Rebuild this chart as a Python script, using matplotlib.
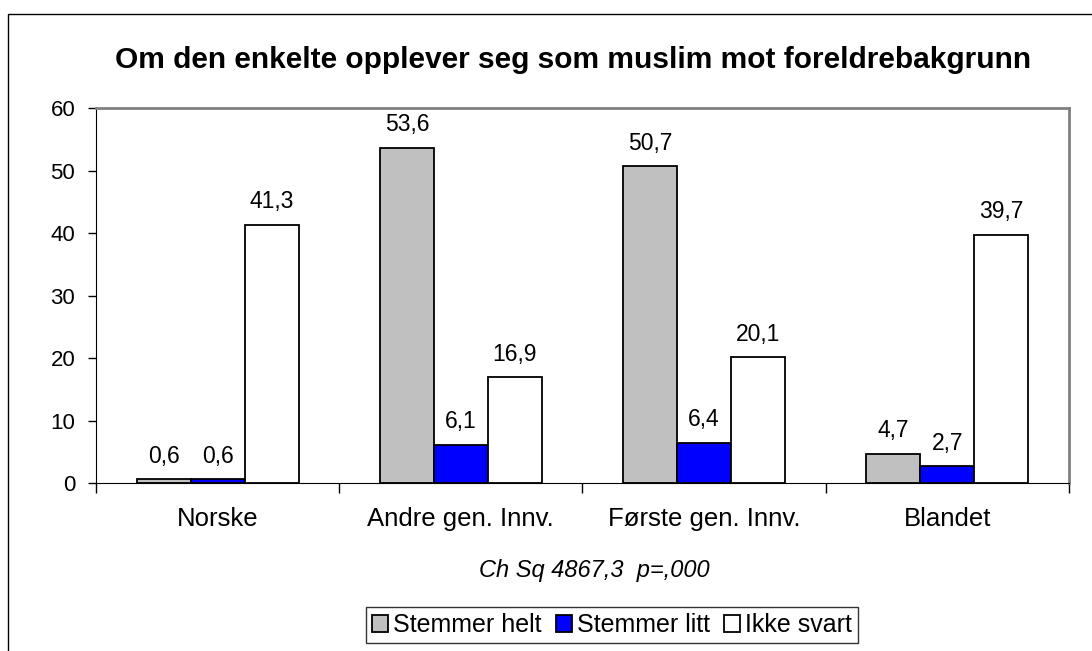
import matplotlib
matplotlib.use('Agg')
import matplotlib.pyplot as plt
import numpy as np
from matplotlib.patches import Rectangle

plt.rcParams['font.family'] = ['Liberation Sans', 'DejaVu Sans']

categories = ['Norske', 'Andre gen. Innv.', 'Første gen. Innv.', 'Blandet']
series_names = ['Stemmer helt', 'Stemmer litt', 'Ikke svart']
stemmer_helt = [0.6, 53.6, 50.7, 4.7]
stemmer_litt = [0.6, 6.1, 6.4, 2.7]
ikke_svart = [41.3, 16.9, 20.1, 39.7]
colors = ['#C0C0C0', '#0000FF', '#FFFFFF']

fig = plt.figure(figsize=(10.92, 6.51), dpi=100)
ax = fig.add_axes([0.0879, 0.258, 0.891, 0.576])

# outer chart border
fig.patches.append(Rectangle((8 / 1092, -0.1), 1.2, 1 - 14 / 651 + 0.1,
                             transform=fig.transFigure, fill=False,
                             edgecolor='black', lw=1.0))

x = np.arange(len(categories))
w = 0.222
for i, (vals, col, name) in enumerate(zip([stemmer_helt, stemmer_litt, ikke_svart],
                                          colors, series_names)):
    pos = x + (i - 1) * w
    ax.bar(pos, vals, width=w, color=col, edgecolor='black', lw=1.3, label=name)
    for p, v in zip(pos, vals):
        ax.text(p, v + 3.7, f'{v:.1f}'.replace('.', ','), ha='center', va='center',
                fontsize=16.5)

ax.set_xlim(-0.5, 3.5)
ax.set_ylim(0, 60)
ax.set_yticks(range(0, 61, 10))
ax.set_xticks(x)
ax.set_xticklabels(categories, fontsize=18.5)
ax.tick_params(axis='x', length=0, pad=17)
ax.set_xticks(np.arange(-0.5, 4, 1), minor=True)
ax.tick_params(axis='x', which='minor', length=7, width=1, color='black')
ax.tick_params(axis='y', labelsize=16, length=6, width=1, pad=9)

for s in ['top', 'right']:
    ax.spines[s].set_color('#808080')
    ax.spines[s].set_linewidth(2)
ax.spines['left'].set_color('black')
ax.spines['bottom'].set_color('black')

fig.text(573 / 1092, 1 - 60 / 651, 'Om den enkelte opplever seg som muslim mot foreldrebakgrunn',
         ha='center', va='center', fontsize=21.5, fontweight='bold')
fig.text(594 / 1092, 1 - 570 / 651, 'Ch Sq 4867,3  p=,000', ha='center', va='center',
         fontsize=17, style='italic')

leg = fig.legend(loc='center', bbox_to_anchor=(612 / 1092, 1 - 625 / 651), ncol=3,
                 fontsize=18, frameon=True, fancybox=False, handlelength=0.65,
                 handleheight=0.65, handletextpad=0.2, columnspacing=0.55,
                 borderpad=0.25, borderaxespad=0)
leg.get_frame().set_edgecolor('black')
leg.get_frame().set_linewidth(1)

fig.savefig('out.png', dpi=100)
